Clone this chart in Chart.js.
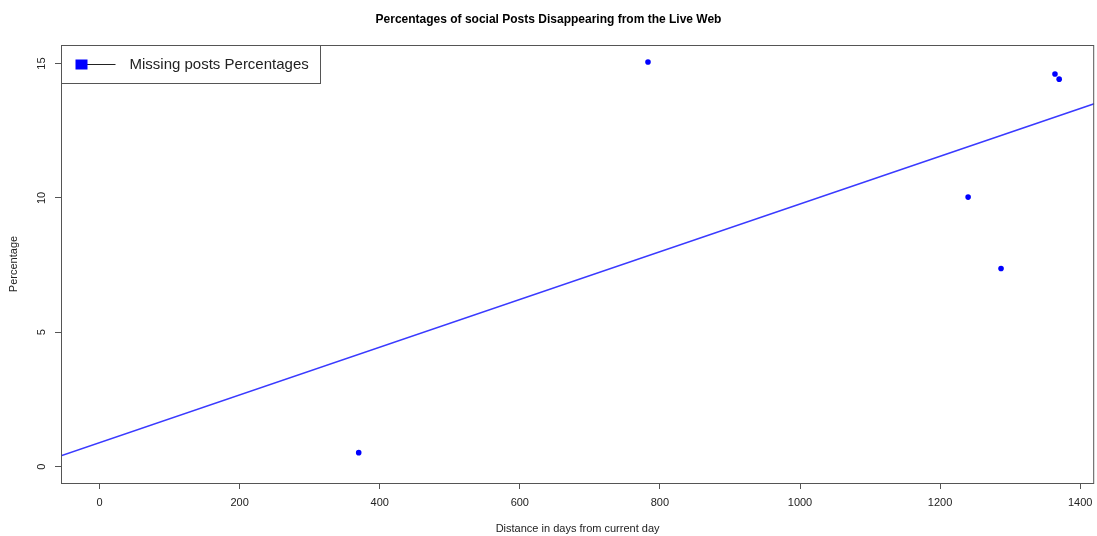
<!DOCTYPE html>
<html>
<head>
<meta charset="utf-8">
<script src="https://cdn.jsdelivr.net/npm/chart.js@4/dist/chart.umd.min.js"></script>
<style>
  html, body { margin: 0; padding: 0; background: #fff; }
  #wrap { width: 1097px; height: 536px; position: relative; }
</style>
</head>
<body>
<div id="wrap"><canvas id="c"></canvas></div>
<script>
// ---- data ----
const chartTitle = 'Percentages of social Posts Disappearing from the Live Web';
const xTitle = 'Distance in days from current day';
const yTitle = 'Percentage';
const legendLabel = 'Missing posts Percentages';

const days = [370, 783, 1240, 1287, 1364, 1370];
const percents = [0.52, 15.06, 10.03, 7.37, 14.61, 14.42];

const fitDays = [-55, 1420];
const fitPercents = [0.40, 13.50];

const xTickValues = [0, 200, 400, 600, 800, 1000, 1200, 1400];
const yTickValues = [0, 5, 10, 15];

const xRange = [-55, 1420];
const yRange = [-0.61, 15.69];

// ---- build ----
const pointData = days.map((d, i) => ({ x: d, y: percents[i] }));
const fitData = fitDays.map((d, i) => ({ x: d, y: fitPercents[i] }));

const FONT = '"Liberation Sans", Arial, Helvetica, sans-serif';
const AXIS_COLOR = '#555555';
const TEXT_COLOR = '#222222';

const boxAndLegend = {
  id: 'boxAndLegend',
  afterDraw(chart) {
    const { ctx, chartArea: a } = chart;
    ctx.save();
    // plot box
    ctx.strokeStyle = AXIS_COLOR;
    ctx.lineWidth = 1;
    ctx.strokeRect(a.left + 0.5, a.top + 0.5, a.right - a.left - 1, a.bottom - a.top);
    // legend box
    const lx = a.left + 0.5, ly = a.top + 0.5, lw = 259, lh = 38;
    ctx.fillStyle = '#ffffff';
    ctx.fillRect(lx, ly, lw, lh);
    ctx.strokeRect(lx, ly, lw, lh);
    const cy = ly + 19;
    // line sample
    ctx.strokeStyle = '#222222';
    ctx.lineWidth = 1.2;
    ctx.beginPath();
    ctx.moveTo(lx + 20, cy);
    ctx.lineTo(lx + 54, cy);
    ctx.stroke();
    // square sample
    ctx.fillStyle = '#0000ff';
    ctx.fillRect(lx + 14, cy - 5, 12, 10);
    // text
    ctx.fillStyle = TEXT_COLOR;
    ctx.font = '15px ' + FONT;
    ctx.textBaseline = 'middle';
    ctx.textAlign = 'left';
    ctx.fillText(legendLabel, lx + 68, cy + 0.5);
    ctx.restore();
  }
};

new Chart(document.getElementById('c'), {
  type: 'scatter',
  data: {
    datasets: [
      {
        label: legendLabel,
        data: pointData,
        backgroundColor: '#0000ff',
        borderColor: '#0000ff',
        pointRadius: 2.8,
        pointHoverRadius: 2.8,
        borderWidth: 0
      },
      {
        label: 'fit',
        data: fitData,
        showLine: true,
        borderColor: '#3a3aff',
        borderWidth: 1.6,
        pointRadius: 0,
        fill: false
      }
    ]
  },
  options: {
    responsive: true,
    maintainAspectRatio: false,
    animation: false,
    events: [],
    layout: { padding: { top: 0, right: 0, bottom: 0, left: 0 } },
    plugins: {
      legend: { display: false },
      tooltip: { enabled: false },
      title: {
        display: true,
        text: chartTitle,
        color: '#000000',
        font: { family: FONT, size: 12, weight: 'bold' },
        padding: { top: 12, bottom: 18.6 }
      }
    },
    scales: {
      x: {
        type: 'linear',
        min: xRange[0],
        max: xRange[1],
        afterBuildTicks: (s) => { s.ticks = xTickValues.map(v => ({ value: v })); },
        afterFit: (s) => { s.height = 53; s.paddingLeft = 0; s.paddingRight = 0; },
        border: { display: false },
        grid: { drawOnChartArea: false, drawTicks: true, tickLength: 6, color: AXIS_COLOR, tickColor: AXIS_COLOR },
        ticks: {
          color: TEXT_COLOR,
          font: { family: FONT, size: 11 },
          padding: 7,
          maxRotation: 0,
          minRotation: 0,
          callback: (v) => String(v)
        },
        title: {
          display: true,
          text: xTitle,
          color: TEXT_COLOR,
          font: { family: FONT, size: 11 },
          padding: { top: 0, bottom: 0 }
        }
      },
      y: {
        type: 'linear',
        min: yRange[0],
        max: yRange[1],
        afterBuildTicks: (s) => { s.ticks = yTickValues.map(v => ({ value: v })); },
        afterFit: (s) => { s.width = 61; s.paddingTop = 0; s.paddingBottom = 0; },
        border: { display: false },
        grid: { drawOnChartArea: false, drawTicks: true, tickLength: 6, color: AXIS_COLOR, tickColor: AXIS_COLOR },
        ticks: {
          color: TEXT_COLOR,
          font: { family: FONT, size: 11 },
          padding: 7,
          minRotation: 90,
          maxRotation: 90,
          crossAlign: 'center',
          callback: (v) => String(v)
        },
        title: {
          display: true,
          text: yTitle,
          color: TEXT_COLOR,
          font: { family: FONT, size: 11 },
          padding: { top: 7, bottom: 0 }
        }
      }
    }
  },
  plugins: [boxAndLegend]
});
</script>
</body>
</html>
